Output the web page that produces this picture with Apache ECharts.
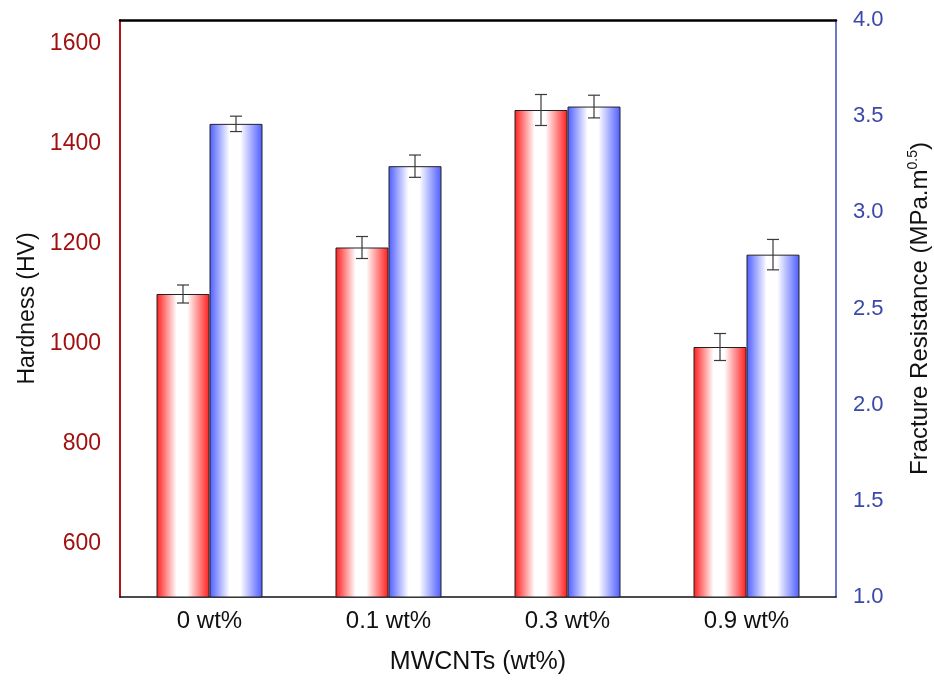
<!DOCTYPE html>
<html>
<head>
<meta charset="utf-8">
<script src="https://cdn.jsdelivr.net/npm/echarts@6/dist/echarts.min.js"></script>
<style>html,body{margin:0;padding:0;background:#fff;}#c{width:934px;height:685px;}</style>
</head>
<body>
<div id="c"></div>
<script>
const categories = ['0 wt%', '0.1 wt%', '0.3 wt%', '0.9 wt%'];
const hardness = [1100, 1193, 1468, 994];
const hardnessErr = [18, 22, 31, 27];
const fracture = [3.46, 3.24, 3.55, 2.78];
const fractureErr = [0.04, 0.058, 0.059, 0.079];
const hardnessTicks = [600, 800, 1000, 1200, 1400, 1600];

const FONT = 'Liberation Sans, Arial, sans-serif';
const BAR_W = 53;

function grad(edge) {
  return new echarts.graphic.LinearGradient(0, 0, 1, 0, [
    {offset: 0, color: edge},
    {offset: 0.38, color: '#ffffff'},
    {offset: 0.58, color: '#ffffff'},
    {offset: 1, color: edge}
  ]);
}

function errData(vals, errs) {
  return vals.map((v, i) => [i, v - errs[i], v + errs[i]]);
}

function errRender(offset) {
  return function (params, api) {
    const lo = api.coord([api.value(0), api.value(1)]);
    const hi = api.coord([api.value(0), api.value(2)]);
    const x = lo[0] + offset;
    const cap = 6;
    const st = {stroke: '#3a3a3a', lineWidth: 1.2};
    return {
      type: 'group',
      children: [
        {type: 'line', shape: {x1: x, y1: lo[1], x2: x, y2: hi[1]}, style: st},
        {type: 'line', shape: {x1: x - cap, y1: lo[1], x2: x + cap, y2: lo[1]}, style: st},
        {type: 'line', shape: {x1: x - cap, y1: hi[1], x2: x + cap, y2: hi[1]}, style: st}
      ]
    };
  };
}

const chart = echarts.init(document.getElementById('c'), null, {renderer: 'canvas'});
chart.setOption({
  animation: false,
  backgroundColor: '#ffffff',
  textStyle: {fontFamily: FONT},
  grid: {left: 120, right: 98, top: 20, bottom: 88, containLabel: false, outerBoundsMode: 'none'},
  xAxis: [{
    type: 'category',
    data: categories,
    position: 'bottom',
    axisLine: {lineStyle: {color: '#111', width: 1.5}},
    axisTick: {show: false},
    axisLabel: {color: '#111', fontSize: 24, margin: 12, fontFamily: FONT},
    name: 'MWCNTs (wt%)',
    nameLocation: 'middle',
    nameGap: 53,
    nameTextStyle: {color: '#111', fontSize: 25, fontFamily: FONT}
  }, {
    type: 'category',
    data: categories,
    position: 'top',
    axisLine: {lineStyle: {color: '#000', width: 2.5}},
    axisTick: {show: false},
    axisLabel: {show: false}
  }],
  yAxis: [{
    type: 'value',
    position: 'left',
    min: 494,
    max: 1648,
    splitLine: {show: false},
    axisLine: {show: true, lineStyle: {color: '#b01818', width: 2}},
    axisTick: {show: false},
    axisLabel: {color: '#a01010', fontSize: 23, margin: 19, fontFamily: FONT, customValues: hardnessTicks, formatter: v => String(v)},
    name: 'Hardness (HV)',
    nameLocation: 'middle',
    nameRotate: 90,
    nameGap: 79,
    nameTextStyle: {color: '#111', fontSize: 23, fontFamily: FONT}
  }, {
    type: 'value',
    position: 'right',
    min: 1.0,
    max: 4.0,
    interval: 0.5,
    splitLine: {show: false},
    axisLine: {show: true, lineStyle: {color: '#3c4cb0', width: 1.5}},
    axisTick: {show: false},
    axisLabel: {color: '#3a48a8', fontSize: 22, margin: 17, fontFamily: FONT, formatter: v => v.toFixed(1)},
    name: 'Fracture Resistance (MPa.m{sup|0.5})',
    nameLocation: 'middle',
    nameRotate: 90,
    nameGap: 70,
    nameTextStyle: {
      color: '#111', fontSize: 24, fontFamily: FONT,
      rich: {sup: {fontSize: 14, verticalAlign: 'top', padding: [0, 0, 14, 0], color: '#111', fontFamily: FONT}}
    }
  }],
  series: [{
    type: 'bar',
    name: 'Hardness',
    data: hardness,
    xAxisIndex: 0,
    yAxisIndex: 0,
    barWidth: BAR_W,
    barGap: '0%',
    itemStyle: {color: grad('#ff1c1c'), borderColor: '#222', borderWidth: 1}
  }, {
    type: 'bar',
    name: 'Fracture',
    data: fracture,
    xAxisIndex: 0,
    yAxisIndex: 1,
    barWidth: BAR_W,
    barGap: '0%',
    itemStyle: {color: grad('#4c5cff'), borderColor: '#222', borderWidth: 1}
  }, {
    type: 'custom',
    xAxisIndex: 0,
    yAxisIndex: 0,
    data: errData(hardness, hardnessErr),
    encode: {x: 0, y: [1, 2]},
    renderItem: errRender(-BAR_W / 2),
    z: 10
  }, {
    type: 'custom',
    xAxisIndex: 0,
    yAxisIndex: 1,
    data: errData(fracture, fractureErr),
    encode: {x: 0, y: [1, 2]},
    renderItem: errRender(BAR_W / 2),
    z: 10
  }]
});
</script>
</body>
</html>
